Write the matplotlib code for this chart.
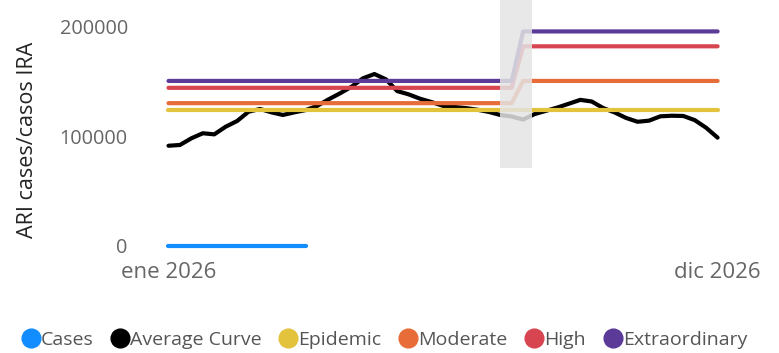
import matplotlib
matplotlib.use("Agg")
import matplotlib.pyplot as plt
from matplotlib.lines import Line2D
import numpy as np

plt.rcParams["font.family"] = ["Open Sans", "DejaVu Sans"]

# weekly index, ene 2026 .. dic 2026
weeks = np.arange(49)
tick_weeks = [0, 48]
tick_labels = ["ene 2026", "dic 2026"]

cases = [0] * 13

average_curve = [
    91100, 91800, 97900, 102500, 101500, 108500, 113700, 122200, 124700, 121600,
    119200, 121600, 123700, 127500, 133500, 139000, 145000, 152700, 156600, 151800,
    141000, 138000, 134000, 131000, 127500, 126500, 125500, 124000, 122000, 119200,
    117800, 115000, 120000, 123000, 126000, 129500, 133000, 131500, 125500, 121500,
    116500, 113000, 114000, 118000, 118500, 118300, 114500, 107500, 98500,
]

# thresholds change after week 30
epidemic = [123400] * 49
moderate = [130000] * 31 + [150300] * 18
high = [144000] * 31 + [181900] * 18
extraordinary = [150300] * 31 + [195500] * 18

band_weeks = (29.0, 31.77)

series = [
    ("Cases", cases, "#118DFF"),
    ("Average Curve", average_curve, "#000000"),
    ("Epidemic", epidemic, "#E3C23C"),
    ("Moderate", moderate, "#E86C37"),
    ("High", high, "#D64550"),
    ("Extraordinary", extraordinary, "#5B3A98"),
]

fig = plt.figure(figsize=(7.79, 3.53), dpi=100)
ax = fig.add_axes([150 / 779, 1 - 258 / 353, 590 / 779, 258 / 353])

draw_order = [2, 3, 4, 5, 1, 0]
for k in draw_order:
    name, vals, col = series[k]
    ax.plot(weeks[:len(vals)], vals, color=col, lw=3.0,
            solid_capstyle="round", solid_joinstyle="round", zorder=2 + k * 0.1)

ax.axvspan(band_weeks[0], band_weeks[1], ymin=(258 - 168) / 258, ymax=1,
           color="#e4e4e4", alpha=0.85, lw=0, zorder=5)

x0 = -(168.5 - 150) / 11.44
x1 = 48 + (740 - 717.6) / 11.44
ax.set_xlim(x0, x1)
ax.set_ylim(-(258 - 245.5) / 109.5 * 1e5, 245.5 / 109.5 * 1e5)

ax.set_yticks([0, 100000, 200000])
ax.set_yticklabels(["0", "100000", "200000"])
ax.set_xticks(tick_weeks)
ax.set_xticklabels(tick_labels)
ax.tick_params(axis="y", length=0, pad=16, labelsize=14.3, labelcolor="#666666")
ax.tick_params(axis="x", length=0, pad=3, labelsize=16, labelcolor="#666666")
for s in ax.spines.values():
    s.set_visible(False)

fig.text(28 / 779, 1 - 140 / 353, "ARI cases/casos IRA", rotation=90,
         ha="center", va="center", fontsize=15.5, color="#252423")

handles = [Line2D([], [], ls="none", marker="o", markersize=13.5,
                  markerfacecolor=c, markeredgecolor=c) for _, _, c in series]
fig.legend(handles, [n for n, _, _ in series], loc="center",
           bbox_to_anchor=(385 / 779, 1 - 340 / 353), ncol=6, frameon=False,
           fontsize=14, labelcolor="#555555", handlelength=0.8,
           handletextpad=0.12, columnspacing=0.97, borderpad=0, borderaxespad=0)

fig.savefig("out.png", dpi=100)
